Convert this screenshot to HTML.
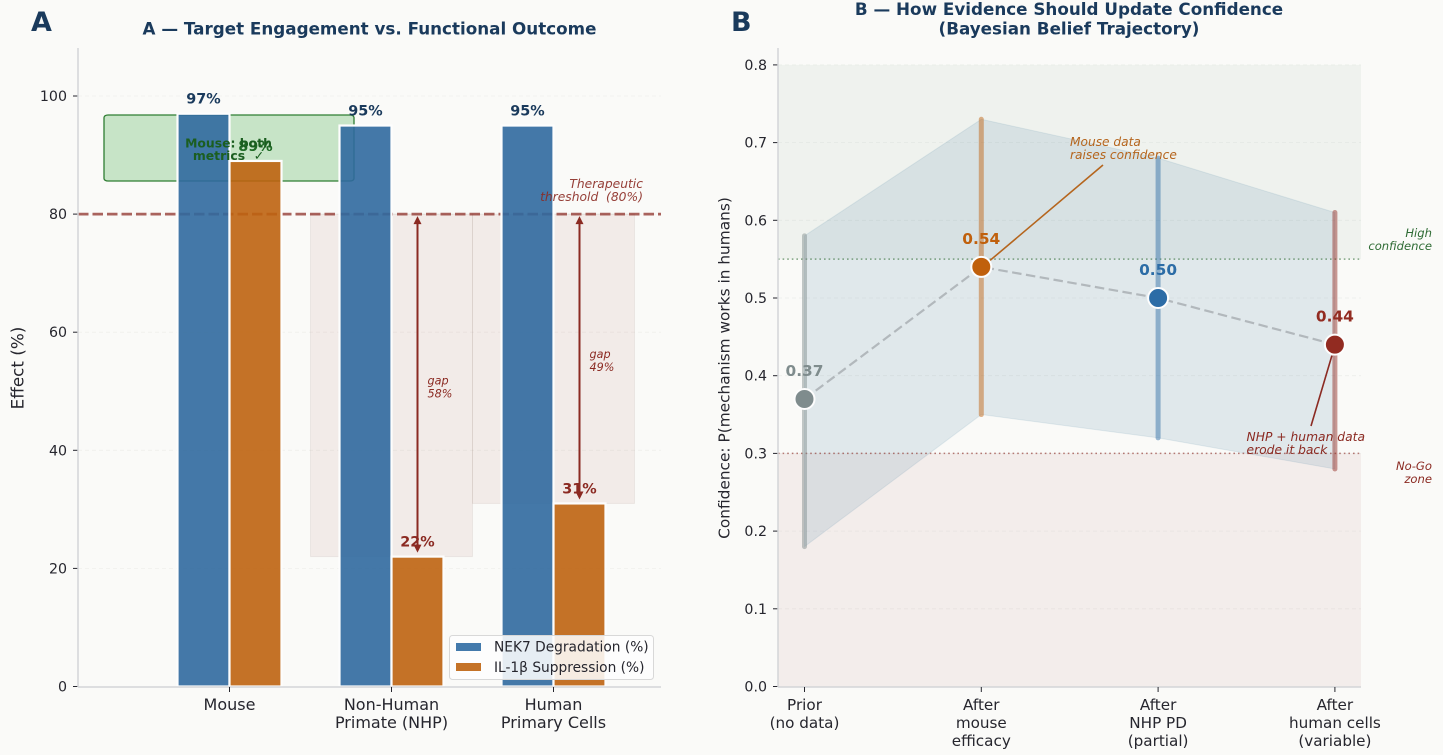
<!DOCTYPE html>
<html lang="en">
<head>
<meta charset="utf-8">
<title>Target engagement and Bayesian belief trajectory</title>
<style>
html,body{margin:0;padding:0;background:#fafaf8;}
svg{display:block;font-family:"DejaVu Sans","Liberation Sans",sans-serif;}
.pre{white-space:pre;}
</style>
</head>
<body>
<svg id="chart" xmlns="http://www.w3.org/2000/svg" width="1443" height="755" viewBox="0 0 1443 755"></svg>
<script>
// ---- Panel A data ----
const speciesLabels = [["Mouse"], ["Non-Human", "Primate (NHP)"], ["Human", "Primary Cells"]];
const nek7Values = [97, 95, 95];
const il1bValues = [89, 22, 31];
const thresholdValue = [80];
const effectTicks = [0, 20, 40, 60, 80, 100];
// ---- Panel B data ----
const stageLabels = [["Prior", "(no data)"], ["After", "mouse", "efficacy"], ["After", "NHP PD", "(partial)"], ["After", "human cells", "(variable)"]];
const beliefMeans = [0.37, 0.54, 0.50, 0.44];
const beliefLow = [0.18, 0.35, 0.32, 0.28];
const beliefHigh = [0.58, 0.73, 0.68, 0.61];
const beliefColors = ["#7f8c8d", "#c0600c", "#2c6ca6", "#922b21"];
const confidenceTicks = [0, 0.1, 0.2, 0.3, 0.4, 0.5, 0.6, 0.7, 0.8];
const highConfidence = [0.55];
const noGoLevel = [0.3];

const NAVY = "#1a3a5c", RED = "#8b2a22", GREEN = "#1b5e20", INK = "#26262e", SPINE = "#d3d5d8";
const svg = document.getElementById("chart");
function mk(tag, attrs, text) {
  const el = document.createElementNS("http://www.w3.org/2000/svg", tag);
  for (const k in attrs) el.setAttribute(k, attrs[k]);
  if (text !== undefined) el.textContent = text;
  svg.appendChild(el);
  return el;
}
// axis functions
const xA = i => 229.5 + 162 * i;
const yA = v => 686.5 - 5.905 * v;
const xB = i => 804.5 + 176.8 * i;
const yB = v => 686.5 - 777 * v;
let el;

// ---- Panel letters and titles ----
el = mk("text", {x: 31, y: 31, "font-size": 27, "font-weight": 700, fill: NAVY}, "A");


el = mk("text", {x: 731, y: 31, "font-size": 27, "font-weight": 700, fill: NAVY}, "B");


el = mk("text", {x: 369.5, y: 34.5, "font-size": 16.75, "font-weight": 700, fill: NAVY, "text-anchor": "middle"}, "A — Target Engagement vs. Functional Outcome");


el = mk("text", {x: 1069, y: 15, "font-size": 16.75, "font-weight": 700, fill: NAVY, "text-anchor": "middle"}, "B — How Evidence Should Update Confidence");


el = mk("text", {x: 1069, y: 34.5, "font-size": 16.75, "font-weight": 700, fill: NAVY, "text-anchor": "middle"}, "(Bayesian Belief Trajectory)");



// ---- Panel A grid and ticks ----
effectTicks.forEach(t => {
  if (t > 0) {
    el = mk("line", {x1: 78, x2: 661, y1: yA(t), y2: yA(t), stroke: "#efefec", "stroke-width": 0.8, "stroke-dasharray": "4 3"});
    
    
  }
  el = mk("line", {x1: 73, x2: 78, y1: yA(t), y2: yA(t), stroke: INK, "stroke-width": 1});
  
  
  el = mk("text", {x: 67, y: yA(t) + 5, "font-size": 14.2, fill: INK, "text-anchor": "end"}, String(t));
  
  
});
el = mk("text", {transform: "translate(23.5 368) rotate(-90)", "font-size": 16.8, fill: INK, "text-anchor": "middle"}, "Effect (%)");



// ---- Panel A gap shading ----
speciesLabels.forEach((_, i) => {
  if (il1bValues[i] < thresholdValue[0] - 10) {
    el = mk("rect", {x: xA(i) - 81, y: yA(thresholdValue[0]), width: 162, height: yA(il1bValues[i]) - yA(thresholdValue[0]), fill: "#8b2a22", "fill-opacity": 0.07, stroke: "#6b4a46", "stroke-opacity": 0.08});
    
    
  }
});

// ---- Mouse callout box ----
el = mk("rect", {x: 104, y: 115, width: 250, height: 66, rx: 4, ry: 2.5, fill: "#a5d6a7", "fill-opacity": 0.6, stroke: "#2e7d32", "stroke-width": 1.3});



// ---- Panel A threshold ----
el = mk("line", {x1: 78, x2: 661, y1: yA(thresholdValue[0]), y2: yA(thresholdValue[0]), stroke: "#8b2a22", "stroke-opacity": 0.72, "stroke-width": 2.8, "stroke-dasharray": "10.5 4"});



// ---- Panel A bars ----
speciesLabels.forEach((_, i) => {
  el = mk("rect", {x: xA(i) - 52, y: yA(nek7Values[i]), width: 52, height: yA(0) - yA(nek7Values[i]), fill: "#30699f", "fill-opacity": 0.9, stroke: "#fdfdfd", "stroke-width": 2.2});
  
  
  el = mk("rect", {x: xA(i), y: yA(il1bValues[i]), width: 52, height: yA(0) - yA(il1bValues[i]), fill: "#be6310", "fill-opacity": 0.9, stroke: "#fdfdfd", "stroke-width": 2.2});
  
  
});

el = mk("text", {x: 643, y: 188, "font-size": 12.3, "font-style": "italic", fill: RED, "fill-opacity": .9, "text-anchor": "end"}, "Therapeutic");


el = mk("text", {x: 643, y: 201, "font-size": 12.3, "font-style": "italic", fill: RED, "fill-opacity": .9, "text-anchor": "end", class: "pre"}, "threshold  (80%)");



// ---- Panel A value labels ----
speciesLabels.forEach((_, i) => {
  el = mk("text", {x: xA(i) - 26, y: yA(nek7Values[i]) - 10, "font-size": 14.4, "font-weight": 700, fill: NAVY, "text-anchor": "middle"}, nek7Values[i] + "%");
  
  
  const good = il1bValues[i] >= thresholdValue[0];
  el = mk("text", {x: xA(i) + 26, y: yA(il1bValues[i]) - 10, "font-size": 14.4, "font-weight": 700, fill: good ? "#1f6b25" : RED, "text-anchor": "middle"}, il1bValues[i] + "%");
  
  
});

// ---- Panel A gap arrows ----
speciesLabels.forEach((_, i) => {
  const gap = thresholdValue[0] - il1bValues[i];
  if (gap > 10) {
    const ax = xA(i) + 26, top = yA(thresholdValue[0]), bot = yA(il1bValues[i]);
    el = mk("line", {x1: ax, x2: ax, y1: top + 6, y2: bot - 8, stroke: RED, "stroke-width": 2});
    
    
    el = mk("polygon", {points: `${ax},${top + 2} ${ax - 4},${top + 10} ${ax + 4},${top + 10}`, fill: RED});
    
    
    el = mk("polygon", {points: `${ax},${bot - 4} ${ax - 4},${bot - 12} ${ax + 4},${bot - 12}`, fill: RED});
    
    
    const midY = (top + bot) / 2;
    el = mk("text", {x: ax + 10, y: midY - 1, "font-size": 11.2, "font-style": "italic", fill: RED}, "gap");
    
    
    el = mk("text", {x: ax + 10, y: midY + 12, "font-size": 11.2, "font-style": "italic", fill: RED}, gap + "%");
    
    
  }
});

// ---- Mouse callout text ----
el = mk("text", {x: 228.5, y: 147.5, "font-size": 12.4, "font-weight": 700, fill: GREEN, "text-anchor": "middle"}, "Mouse: both");


el = mk("text", {x: 228.5, y: 160, "font-size": 12.4, "font-weight": 700, fill: GREEN, "text-anchor": "middle", class: "pre"}, "metrics  ✓");



// ---- Panel A axes ----
el = mk("line", {x1: 78, x2: 78, y1: 48, y2: 687, stroke: SPINE, "stroke-width": 1.5});


el = mk("line", {x1: 78, x2: 661, y1: 687, y2: 687, stroke: SPINE, "stroke-width": 1.5});


speciesLabels.forEach((lines, i) => {
  el = mk("line", {x1: xA(i), x2: xA(i), y1: 687, y2: 692, stroke: INK, "stroke-width": 1});
  
  
  lines.forEach((t, j) => {
    el = mk("text", {x: xA(i), y: 710 + j * 18, "font-size": 16, fill: INK, "text-anchor": "middle"}, t);
    
    
  });
});

// ---- Panel A legend ----
el = mk("rect", {x: 449.5, y: 635.5, width: 204, height: 44, rx: 3, fill: "#fdfdfd", "fill-opacity": 0.88, stroke: "#d8d8d8"});


el = mk("rect", {x: 456, y: 643, width: 25, height: 8, fill: "#437aac"});


el = mk("rect", {x: 456, y: 663, width: 25, height: 8, fill: "#c47227"});


el = mk("text", {x: 494, y: 651.5, "font-size": 13.75, fill: INK}, "NEK7 Degradation (%)");


el = mk("text", {x: 494, y: 672, "font-size": 13.75, fill: INK}, "IL-1β Suppression (%)");



// ---- Panel B zones ----
el = mk("rect", {x: 778, y: yB(0.8), width: 583, height: yB(highConfidence[0]) - yB(0.8), fill: "#2f5f3a", "fill-opacity": 0.05});


el = mk("rect", {x: 778, y: yB(noGoLevel[0]), width: 583, height: yB(0) - yB(noGoLevel[0]), fill: "#8b2a22", "fill-opacity": 0.06});


confidenceTicks.forEach(t => {
  if (t > 0) {
    el = mk("line", {x1: 778, x2: 1361, y1: yB(t), y2: yB(t), stroke: "#b9bdb9", "stroke-opacity": 0.2, "stroke-width": 0.8, "stroke-dasharray": "4 3"});
    
    
  }
  el = mk("line", {x1: 773, x2: 778, y1: yB(t), y2: yB(t), stroke: INK, "stroke-width": 1});
  
  
  el = mk("text", {x: 767, y: yB(t) + 5, "font-size": 14.2, fill: INK, "text-anchor": "end"}, t.toFixed(1));
  
  
});
el = mk("text", {transform: "translate(729.5 368) rotate(-90)", "font-size": 15.35, fill: INK, "text-anchor": "middle"}, "Confidence: P(mechanism works in humans)");



// ---- Panel B uncertainty band ----
const bandPts = beliefHigh.map((v, i) => xB(i) + "," + yB(v)).concat(beliefLow.map((v, i) => xB(i) + "," + yB(v)).reverse()).join(" ");
el = mk("polygon", {points: bandPts, fill: "#2c6a90", "fill-opacity": 0.12, stroke: "#2c6a90", "stroke-opacity": 0.1});



// ---- Panel B reference lines ----
el = mk("line", {x1: 778, x2: 1361, y1: yB(highConfidence[0]), y2: yB(highConfidence[0]), stroke: "#2e6b34", "stroke-opacity": 0.6, "stroke-width": 1.5, "stroke-dasharray": "1.6 3"});


el = mk("line", {x1: 778, x2: 1361, y1: yB(noGoLevel[0]), y2: yB(noGoLevel[0]), stroke: "#8b2a22", "stroke-opacity": 0.6, "stroke-width": 1.5, "stroke-dasharray": "1.6 3"});



// ---- Panel B error bars ----
beliefMeans.forEach((_, i) => {
  el = mk("line", {x1: xB(i), x2: xB(i), y1: yB(beliefHigh[i]), y2: yB(beliefLow[i]), stroke: beliefColors[i], "stroke-opacity": 0.47, "stroke-width": 5, "stroke-linecap": "round"});
  
  
});

// ---- Panel B trajectory ----
el = mk("polyline", {points: beliefMeans.map((v, i) => xB(i) + "," + yB(v)).join(" "), fill: "none", stroke: "#b2b8bc", "stroke-width": 2.2, "stroke-dasharray": "9.5 4.5"});



// ---- Panel B annotations ----
el = mk("line", {x1: xB(1) + 7, y1: yB(beliefMeans[1]) - 5, x2: 1103, y2: 165, stroke: "#b5651d", "stroke-width": 1.6});


el = mk("line", {x1: xB(3) - 3, y1: yB(beliefMeans[3]) + 11, x2: 1311, y2: 426, stroke: RED, "stroke-width": 1.6});


el = mk("text", {x: 1070, y: 146, "font-size": 12.2, "font-style": "italic", fill: "#b5651d"}, "Mouse data");


el = mk("text", {x: 1070, y: 159, "font-size": 12.2, "font-style": "italic", fill: "#b5651d"}, "raises confidence");


el = mk("text", {x: 1246.5, y: 441, "font-size": 12.3, "font-style": "italic", fill: RED}, "NHP + human data");


el = mk("text", {x: 1246.5, y: 454, "font-size": 12.3, "font-style": "italic", fill: RED}, "erode it back");



// ---- Panel B points and values ----
beliefMeans.forEach((v, i) => {
  el = mk("circle", {cx: xB(i), cy: yB(v), r: 10, fill: beliefColors[i], stroke: "#fdfdfd", "stroke-width": 2});
  
  
  el = mk("text", {x: xB(i), y: yB(v) - 23, "font-size": 15.4, "font-weight": 700, fill: beliefColors[i], "text-anchor": "middle"}, v.toFixed(2));
  
  
});

// ---- Zone side labels ----
el = mk("text", {x: 1432, y: 237, "font-size": 11.6, "font-style": "italic", fill: "#2e6b34", "text-anchor": "end"}, "High");


el = mk("text", {x: 1432, y: 250, "font-size": 11.6, "font-style": "italic", fill: "#2e6b34", "text-anchor": "end"}, "confidence");


el = mk("text", {x: 1432, y: 470, "font-size": 11.6, "font-style": "italic", fill: RED, "text-anchor": "end"}, "No-Go");


el = mk("text", {x: 1432, y: 483, "font-size": 11.6, "font-style": "italic", fill: RED, "text-anchor": "end"}, "zone");



// ---- Panel B axes ----
el = mk("line", {x1: 778, x2: 778, y1: 48, y2: 687, stroke: SPINE, "stroke-width": 1.5});


el = mk("line", {x1: 778, x2: 1361, y1: 687, y2: 687, stroke: SPINE, "stroke-width": 1.5});


stageLabels.forEach((lines, i) => {
  el = mk("line", {x1: xB(i), x2: xB(i), y1: 687, y2: 692, stroke: INK, "stroke-width": 1});
  
  
  lines.forEach((t, j) => {
    el = mk("text", {x: xB(i), y: 710 + j * 18, "font-size": 15.2, fill: INK, "text-anchor": "middle"}, t);
    
    
  });
});
</script>
</body>
</html>
